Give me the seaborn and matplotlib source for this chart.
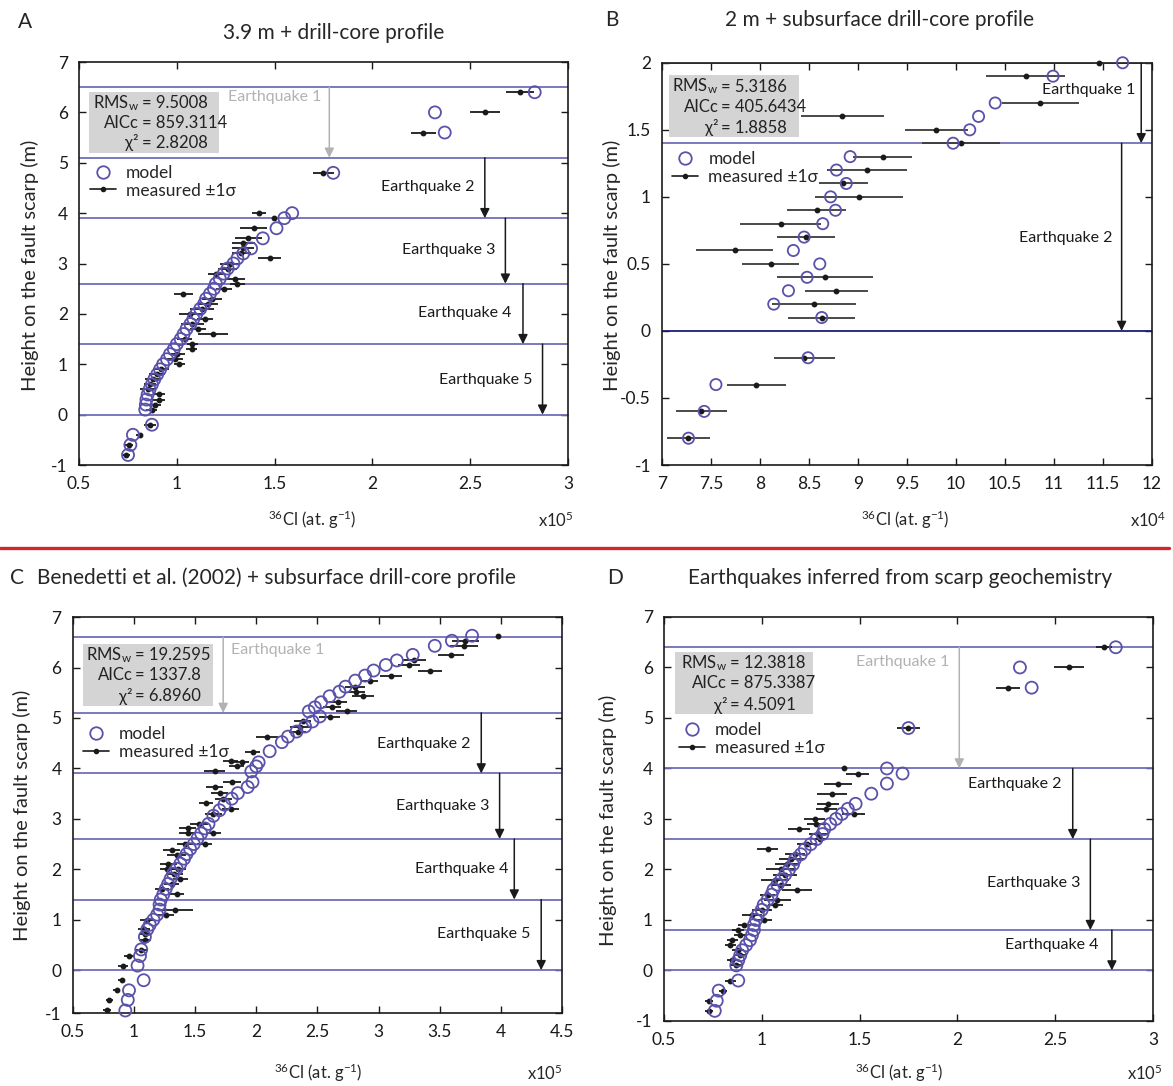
import matplotlib
matplotlib.use("Agg")
import matplotlib.pyplot as plt
import seaborn as sns
from matplotlib.lines import Line2D
from matplotlib.patches import Rectangle

# ---------------- panel A : 3.9 m + drill-core profile (36Cl x1e5) ----------------
a_mod_h = [6.4, 6.0, 5.6, 4.8, 4.0, 3.9, 3.7, 3.5, 3.3, 3.2, 3.1, 3.0, 2.9, 2.8, 2.7, 2.6,
           2.5, 2.4, 2.3, 2.2, 2.1, 2.0, 1.9, 1.8, 1.7, 1.6, 1.5, 1.4, 1.3, 1.2, 1.1, 1.0,
           0.9, 0.8, 0.7, 0.6, 0.5, 0.4, 0.3, 0.2, 0.1, -0.2, -0.4, -0.6, -0.8]
a_mod_cl = [2.83, 2.32, 2.37, 1.80, 1.59, 1.55, 1.51, 1.44, 1.38, 1.34, 1.31, 1.29, 1.26, 1.24,
            1.22, 1.20, 1.19, 1.17, 1.15, 1.14, 1.12, 1.10, 1.085, 1.07, 1.05, 1.035, 1.02,
            1.00, 0.985, 0.965, 0.95, 0.93, 0.915, 0.90, 0.885, 0.873, 0.861, 0.851, 0.845,
            0.842, 0.839, 0.873, 0.776, 0.763, 0.751]
a_meas_h = [6.4, 6.0, 5.6, 4.8, 4.0, 3.9, 3.7, 3.5, 3.4, 3.3, 3.2, 3.1, 3.0, 2.9, 2.8, 2.7,
            2.6, 2.5, 2.4, 2.3, 2.2, 2.1, 2.0, 1.9, 1.8, 1.7, 1.6, 1.5, 1.4, 1.3, 1.2, 1.1,
            1.0, 0.9, 0.8, 0.7, 0.6, 0.5, 0.4, 0.3, 0.2, 0.1, -0.2, -0.4, -0.6, -0.8]
a_meas_cl = [2.755, 2.575, 2.26, 1.75, 1.42, 1.497, 1.393, 1.366, 1.34, 1.34, 1.33, 1.475,
             1.27, 1.26, 1.20, 1.30, 1.31, 1.24, 1.034, 1.18, 1.16, 1.13, 1.07, 1.146, 1.08,
             1.108, 1.186, 1.04, 1.08, 1.076, 1.0, 0.99, 1.014, 0.92, 0.898, 0.88, 0.864,
             0.853, 0.908, 0.91, 0.89, 0.871, 0.864, 0.81, 0.754, 0.742]
a_meas_err = [0.07, 0.075, 0.065, 0.055, 0.035, 0.01, 0.07, 0.07, 0.06, 0.055, 0.05, 0.058,
              0.05, 0.05, 0.04, 0.05, 0.04, 0.04, 0.05, 0.05, 0.05, 0.06, 0.06, 0.04, 0.06,
              0.04, 0.077, 0.04, 0.03, 0.03, 0.04, 0.04, 0.03, 0.04, 0.04, 0.04, 0.03, 0.04,
              0.03, 0.03, 0.03, 0.03, 0.03, 0.02, 0.02, 0.02]
a_breaks = [6.5, 5.1, 3.9, 2.6, 1.4, 0.0]
a_stats = ["9.5008", "859.3114", "2.8208"]

# ---------------- panel B : 2 m + subsurface drill-core (36Cl x1e4) ----------------
b_h = [2.0, 1.9, 1.7, 1.6, 1.5, 1.4, 1.3, 1.2, 1.1, 1.0, 0.9, 0.8, 0.7, 0.6, 0.5, 0.4,
       0.3, 0.2, 0.1, -0.2, -0.4, -0.6, -0.8]
b_mod_cl = [11.70, 10.99, 10.40, 10.23, 10.14, 9.97, 8.92, 8.78, 8.88, 8.72, 8.77, 8.64,
            8.45, 8.34, 8.61, 8.48, 8.29, 8.14, 8.63, 8.49, 7.55, 7.43, 7.27]
b_meas_cl = [11.46, 10.71, 10.86, 8.84, 9.80, 10.05, 9.25, 9.09, 8.85, 9.01, 8.58, 8.21,
             8.47, 7.74, 8.11, 8.66, 8.78, 8.55, 8.63, 8.45, 7.96, 7.40, 7.27]
b_meas_err = [0.05, 0.40, 0.39, 0.42, 0.32, 0.40, 0.30, 0.41, 0.25, 0.45, 0.30, 0.41, 0.30,
              0.39, 0.29, 0.49, 0.32, 0.43, 0.34, 0.31, 0.30, 0.26, 0.22]
b_breaks = [2.0, 1.4]
b_stats = ["5.3186", "405.6434", "1.8858"]

# ---------------- panel C : Benedetti et al. (2002) + drill-core (x1e5) ----------------
c_mod_h = [6.63, 6.53, 6.43, 6.25, 6.14, 6.05, 5.94, 5.84, 5.74, 5.62, 5.52, 5.43, 5.31, 5.21,
           5.13, 5.03, 4.93, 4.83, 4.73, 4.63, 4.52, 4.34, 4.12, 4.04, 3.94, 3.73, 3.63, 3.51,
           3.40, 3.28, 3.17, 3.06, 2.90, 2.81, 2.71, 2.61, 2.50, 2.40, 2.30, 2.21, 2.11, 2.01,
           1.91, 1.81, 1.71, 1.61, 1.50, 1.40, 1.30, 1.20, 1.10, 1.00, 0.90, 0.81, 0.66, 0.41,
           0.28, 0.09, -0.20, -0.40, -0.59, -0.80]
c_mod_cl = [3.765, 3.60, 3.46, 3.28, 3.15, 3.06, 2.96, 2.89, 2.81, 2.73, 2.68, 2.60, 2.53, 2.48,
            2.43, 2.52, 2.46, 2.40, 2.33, 2.26, 2.21, 2.11, 2.02, 2.00, 1.96, 1.97, 1.93, 1.85,
            1.80, 1.74, 1.70, 1.65, 1.61, 1.58, 1.55, 1.52, 1.49, 1.46, 1.43, 1.41, 1.38, 1.35,
            1.32, 1.30, 1.28, 1.26, 1.24, 1.22, 1.21, 1.21, 1.19, 1.16, 1.13, 1.11, 1.09, 1.06,
            1.05, 1.03, 1.08, 0.96, 0.95, 0.93]
c_meas_h = [6.63, 6.53, 6.43, 6.25, 6.14, 6.05, 5.93, 5.84, 5.73, 5.62, 5.52, 5.43, 5.31, 5.22,
            5.13, 5.02, 4.93, 4.83, 4.73, 4.63, 4.33, 4.14, 4.12, 4.04, 3.94, 3.74, 3.64, 3.51,
            3.40, 3.31, 3.19, 3.10, 2.90, 2.81, 2.71, 2.71, 2.50, 2.50, 2.38, 2.28, 2.11, 2.01,
            2.01, 1.91, 1.81, 1.71, 1.61, 1.50, 1.20, 1.10, 1.00, 0.81, 0.71, 0.59, 0.39, 0.29,
            0.09, -0.20, -0.40, -0.59, -0.80]
c_meas_cl = [3.98, 3.71, 3.70, 3.59, 3.29, 3.25, 3.42, 3.10, 2.93, 2.81, 2.82, 2.87, 2.67, 2.62,
             2.74, 2.60, 2.38, 2.36, 2.34, 2.09, 1.97, 1.79, 1.88, 1.84, 1.66, 1.80, 1.66, 1.70,
             1.73, 1.59, 1.79, 1.65, 1.53, 1.44, 1.44, 1.65, 1.42, 1.58, 1.31, 1.35, 1.28, 1.27,
             1.36, 1.33, 1.38, 1.31, 1.23, 1.35, 1.34, 1.26, 1.11, 1.08, 1.09, 1.09, 1.06, 0.96,
             0.91, 0.90, 0.86, 0.80, 0.78]
c_meas_err = [0.02, 0.11, 0.115, 0.105, 0.10, 0.09, 0.10, 0.09, 0.065, 0.08, 0.07, 0.09, 0.075,
              0.07, 0.085, 0.086, 0.07, 0.08, 0.07, 0.09, 0.06, 0.06, 0.06, 0.06, 0.085, 0.075,
              0.07, 0.07, 0.07, 0.06, 0.07, 0.07, 0.075, 0.07, 0.07, 0.06, 0.07, 0.06, 0.07,
              0.08, 0.07, 0.06, 0.07, 0.07, 0.06, 0.06, 0.06, 0.06, 0.14, 0.07, 0.06, 0.05,
              0.05, 0.05, 0.05, 0.04, 0.04, 0.03, 0.03, 0.03, 0.03]
c_breaks = [6.6, 5.1, 3.9, 2.6, 1.4, 0.0]
c_stats = ["19.2595", "1337.8", "6.8960"]

# ---------------- panel D : earthquakes inferred from scarp geochemistry (x1e5) ----------------
d_h = [6.4, 6.0, 5.6, 4.8, 4.0, 3.9, 3.7, 3.5, 3.3, 3.2, 3.1, 3.0, 2.9, 2.8, 2.7, 2.6, 2.5,
       2.4, 2.3, 2.2, 2.1, 2.0, 1.9, 1.8, 1.7, 1.6, 1.5, 1.4, 1.3, 1.2, 1.1, 1.0, 0.9, 0.8,
       0.7, 0.6, 0.5, 0.4, 0.3, 0.2, 0.1, -0.2, -0.4, -0.6, -0.8]
d_mod_cl = [2.81, 2.32, 2.38, 1.75, 1.64, 1.72, 1.64, 1.56, 1.48, 1.44, 1.41, 1.38, 1.35, 1.32,
            1.31, 1.28, 1.25, 1.22, 1.20, 1.17, 1.16, 1.14, 1.12, 1.10, 1.08, 1.06, 1.05, 1.03,
            1.01, 1.0, 0.98, 0.97, 0.96, 0.96, 0.95, 0.94, 0.92, 0.90, 0.89, 0.88, 0.87, 0.88,
            0.78, 0.77, 0.76]
d_meas_cl = [2.75, 2.57, 2.26, 1.75, 1.42, 1.49, 1.39, 1.36, 1.34, 1.33, 1.47, 1.27, 1.28, 1.19,
             1.29, 1.30, 1.23, 1.03, 1.17, 1.15, 1.13, 1.10, 1.12, 1.07, 1.10, 1.18, 1.03, 1.08,
             1.07, 1.0, 0.95, 1.01, 0.91, 0.88, 0.89, 0.85, 0.84, 0.88, 0.89, 0.85, 0.87, 0.84,
             0.80, 0.73, 0.73]
d_meas_err = [0.04, 0.076, 0.06, 0.06, 0.01, 0.06, 0.072, 0.077, 0.055, 0.055, 0.058, 0.055,
              0.05, 0.055, 0.05, 0.03, 0.05, 0.054, 0.05, 0.064, 0.06, 0.077, 0.06, 0.072, 0.05,
              0.077, 0.04, 0.07, 0.04, 0.05, 0.05, 0.04, 0.03, 0.03, 0.03, 0.03, 0.03, 0.03,
              0.03, 0.03, 0.03, 0.03, 0.02, 0.02, 0.02]
d_breaks = [6.4, 4.0, 2.6, 0.8, 0.0]
d_stats = ["12.3818", "875.3387", "4.5091"]

# style
sns.set_theme(style="ticks")
plt.rcParams["font.family"] = ["Lato", "DejaVu Sans"]
plt.rcParams["mathtext.default"] = "regular"

MODEL_C = "#5a52aa"
LINE_C = "#716db8"
GREY = "#b2b2b2"

fig = plt.figure(figsize=(11.73, 10.86), dpi=100)


def draw_panel(ax, mod_h, mod_cl, meas_h, meas_cl, meas_err, breaks, quakes, stats,
               box, eq_x, stat_y, leg_anchor, size=75, bar_c="k"):
    for b in breaks:
        ax.axhline(b, color=LINE_C, lw=1.3, zorder=1)
    for lab, xa, ytop, ybot, xt, yt, col, ha in quakes:
        ax.annotate("", xy=(xa, ybot), xytext=(xa, ytop),
                    arrowprops=dict(arrowstyle="-|>", color=col, lw=1.1,
                                    mutation_scale=14, shrinkA=0, shrinkB=0), zorder=2)
        ax.text(xt, yt, lab, color=col, fontsize=11.5, ha=ha, va="center", zorder=2)
    eb = ax.errorbar(meas_cl, meas_h, xerr=meas_err, fmt="o", ms=3.2, color="k", ecolor=bar_c,
                     elinewidth=1.3, capsize=0, zorder=3)
    for art in eb.lines[0:1] + tuple(eb.lines[2]):
        art.set_clip_on(False)
    sns.scatterplot(x=mod_cl, y=mod_h, ax=ax, s=size, marker="o", zorder=4)
    pts = ax.collections[-1]
    pts.set_facecolor("none")
    pts.set_edgecolor(MODEL_C)
    pts.set_linewidth(1.3)
    pts.set_clip_on(False)

    # fit statistics box
    ax.add_patch(Rectangle((box[0], box[1]), box[2], box[3], transform=ax.transAxes,
                           facecolor="#d4d4d4", edgecolor="none", zorder=5))
    names = ["RMS$_w$", "AICc", "\u03c7\u00b2"]
    for name, val, yy in zip(names, stats, stat_y):
        ax.text(eq_x - 0.018, yy, name, transform=ax.transAxes, ha="right", va="center",
                fontsize=12, color="#222222", zorder=6)
        ax.text(eq_x - 0.012, yy, "= " + val, transform=ax.transAxes, ha="left",
                va="center", fontsize=12, color="#222222", zorder=6)

    handles = [Line2D([], [], ls="none", marker="o", mfc="none", mec=MODEL_C, mew=1.3, ms=9),
               Line2D([], [], color="k", lw=1.2, marker="o", ms=3)]
    ax.legend(handles, ["model", "measured \u00b11\u03c3"], loc="upper left",
              bbox_to_anchor=leg_anchor, frameon=False, fontsize=12.5, handlelength=1.5,
              handletextpad=0.6, labelspacing=0.1, borderaxespad=0, borderpad=0)

    ax.tick_params(direction="in", top=True, right=True, length=5, width=1,
                   labelsize=12.5, pad=8, colors="k")
    for s in ax.spines.values():
        s.set_linewidth(1.2)
        s.set_color("k")
    ax.set_xlabel("")
    ax.set_ylabel("")


def fmt(v):
    return f"{v:g}"


# panel A
axA = fig.add_axes([0.0673, 0.5718, 0.4169, 0.3711])
quakesA = [("Earthquake 1", 1.78, 6.5, 5.1, 1.74, 6.3, GREY, "right"),
           ("Earthquake 2", 2.575, 5.1, 3.9, 2.52, 4.52, "k", "right"),
           ("Earthquake 3", 2.68, 3.9, 2.6, 2.63, 3.27, "k", "right"),
           ("Earthquake 4", 2.77, 2.6, 1.4, 2.71, 2.02, "k", "right"),
           ("Earthquake 5", 2.87, 1.4, 0.0, 2.82, 0.69, "k", "right")]
draw_panel(axA, a_mod_h, a_mod_cl, a_meas_h, a_meas_cl, a_meas_err, a_breaks, quakesA,
           a_stats, (0.02, 0.774, 0.266, 0.152), 0.14, [0.898, 0.849, 0.80], (0.022, 0.745))
xt = [0.5, 1, 1.5, 2, 2.5, 3]
axA.set_xlim(0.5, 3)
axA.set_ylim(-1, 7)
axA.set_xticks(xt, [fmt(v) for v in xt])
axA.set_yticks(range(-1, 8), [str(v) for v in range(-1, 8)])

# panel B
axB = fig.add_axes([0.5644, 0.5718, 0.4177, 0.3704])
quakesB = [("Earthquake 1", 11.89, 2.0, 1.4, 11.83, 1.80, "k", "right"),
           ("Earthquake 2", 11.69, 1.4, 0.0, 11.60, 0.69, "k", "right")]
axB.axhline(0.0, color="#1c1c78", lw=1.3, zorder=1)
draw_panel(axB, b_h, b_mod_cl, b_h, b_meas_cl, b_meas_err, b_breaks, quakesB, b_stats,
           (0.014, 0.816, 0.266, 0.154), 0.133, [0.941, 0.89, 0.839], (0.02, 0.78),
           size=65, bar_c="#3a3a3a")
xt = [7, 7.5, 8, 8.5, 9, 9.5, 10, 10.5, 11, 11.5, 12]
yt = [-1, -0.5, 0, 0.5, 1, 1.5, 2]
axB.set_xlim(7, 12)
axB.set_ylim(-1, 2)
axB.set_xticks(xt, [fmt(v) for v in xt])
axB.set_yticks(yt, [fmt(v) for v in yt])

# panel C
axC = fig.add_axes([0.062, 0.0672, 0.4171, 0.3646])
quakesC = [("Earthquake 1", 1.73, 6.6, 5.1, 1.79, 6.35, GREY, "left"),
           ("Earthquake 2", 3.84, 5.1, 3.9, 3.75, 4.49, "k", "right"),
           ("Earthquake 3", 3.99, 3.9, 2.6, 3.91, 3.26, "k", "right"),
           ("Earthquake 4", 4.11, 2.6, 1.4, 4.06, 2.01, "k", "right"),
           ("Earthquake 5", 4.33, 1.4, 0.0, 4.24, 0.72, "k", "right")]
draw_panel(axC, c_mod_h, c_mod_cl, c_meas_h, c_meas_cl, c_meas_err, c_breaks, quakesC,
           c_stats, (0.02, 0.776, 0.266, 0.156), 0.14, [0.904, 0.853, 0.80], (0.02, 0.725))
xt = [0.5, 1, 1.5, 2, 2.5, 3, 3.5, 4, 4.5]
axC.set_xlim(0.5, 4.5)
axC.set_ylim(-0.85, 7)
axC.set_xticks(xt, [fmt(v) for v in xt])
axC.set_yticks([-0.85] + list(range(0, 8)), [str(v) for v in range(-1, 8)])

# panel D
axD = fig.add_axes([0.566, 0.0599, 0.4169, 0.372])
quakesD = [("Earthquake 1", 2.01, 6.4, 4.0, 1.96, 6.11, GREY, "right"),
           ("Earthquake 2", 2.59, 4.0, 2.6, 2.53, 3.69, "k", "right"),
           ("Earthquake 3", 2.68, 2.6, 0.8, 2.63, 1.73, "k", "right"),
           ("Earthquake 4", 2.79, 0.8, 0.0, 2.72, 0.51, "k", "right")]
draw_panel(axD, d_h, d_mod_cl, d_h, d_meas_cl, d_meas_err, d_breaks, quakesD, d_stats,
           (0.0225, 0.76, 0.283, 0.154), 0.147, [0.885, 0.836, 0.782], (0.03, 0.74))
xt = [0.5, 1, 1.5, 2, 2.5, 3]
axD.set_xlim(0.5, 3)
axD.set_ylim(-1, 7)
axD.set_xticks(xt, [fmt(v) for v in xt])
axD.set_yticks(range(-1, 8), [str(v) for v in range(-1, 8)])

# panel letters, titles and axis labels
fig.text(0.0153, 0.9797, "A", fontsize=15, va="center")
fig.text(0.284, 0.9696, "3.9 m + drill-core profile", fontsize=15, ha="center", va="center")
fig.text(0.516, 0.9816, "B", fontsize=15, va="center")
fig.text(0.750, 0.9816, "2 m + subsurface drill-core profile", fontsize=15, ha="center",
         va="center")
fig.text(0.0085, 0.4678, "C", fontsize=15, va="center")
fig.text(0.0315, 0.4678, "Benedetti et al. (2002) + subsurface drill-core profile",
         fontsize=15, va="center")
fig.text(0.5175, 0.4678, "D", fontsize=15, va="center")
fig.text(0.767, 0.4678, "Earthquakes inferred from scarp geochemistry", fontsize=15,
         ha="center", va="center")

ylab = "Height on the fault scarp (m)"
for x, y in [(0.0256, 0.756), (0.5217, 0.756), (0.0188, 0.2495), (0.518, 0.245)]:
    fig.text(x, y, ylab, rotation=90, fontsize=14.5, ha="center", va="center")

xlab = "$^{36}$Cl (at. g$^{-1}$)"
for x, y in [(0.266, 0.521), (0.7715, 0.521), (0.271, 0.012), (0.767, 0.012)]:
    fig.text(x, y, xlab, fontsize=12, ha="center", va="center")
for x, y, p in [(0.474, 0.521, "5"), (0.9787, 0.521, "4"), (0.4646, 0.012, "5"),
                (0.976, 0.012, "5")]:
    fig.text(x, y, "x10$^{" + p + "}$", fontsize=12, ha="center", va="center")

# red separator between the two rows
fig.add_artist(Line2D([0.0, 0.997], [0.4954, 0.4954], transform=fig.transFigure,
                      color="#d3262c", lw=2.4))

fig.savefig("out.png", dpi=100)
